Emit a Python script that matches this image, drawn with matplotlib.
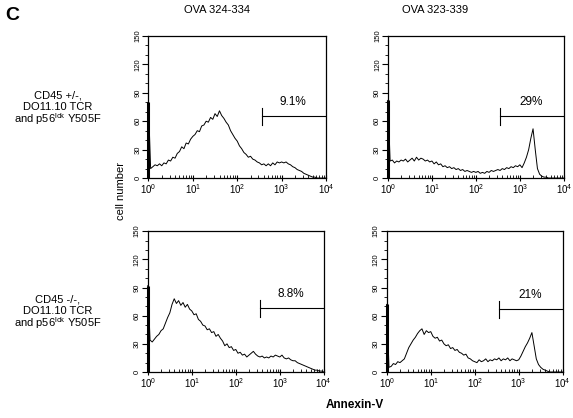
import numpy as np
import matplotlib.pyplot as plt
from matplotlib.ticker import MultipleLocator, LogLocator, NullFormatter

plt.rcParams['font.family'] = ['Liberation Sans', 'DejaVu Sans']

# channel positions: every 0.05 decade from 10^0 to 10^4
decades = np.linspace(0, 4, 81)
channels = 10 ** decades

# cell counts (first value is the pile-up in channel 0)
het_ova324 = [80, 10, 12, 14, 13, 15, 13, 16, 15, 19,
              18, 22, 21, 26, 28, 33, 31, 37, 36, 41,
              44, 46, 50, 49, 55, 56, 60, 59, 64, 62,
              68, 65, 71, 66, 63, 59, 56, 50, 46, 42,
              39, 34, 31, 27, 25, 22, 23, 20, 19, 17,
              16, 14, 15, 13, 15, 13, 16, 14, 17, 16,
              17, 16, 17, 15, 14, 12, 11, 9, 8, 7,
              5, 4, 3, 2, 1, 1, 0, 0, 0, 0, 0]
het_ova323 = [82, 18, 19, 16, 18, 17, 19, 18, 20, 17,
              19, 21, 18, 22, 19, 21, 20, 18, 19, 17,
              18, 15, 17, 14, 15, 12, 13, 11, 12, 10,
              11, 9, 10, 8, 9, 7, 8, 7, 6, 7,
              6, 7, 5, 6, 5, 7, 6, 8, 7, 8,
              9, 8, 10, 9, 11, 10, 12, 11, 13, 12,
              14, 11, 16, 22, 30, 42, 52, 30, 10, 4,
              2, 1, 1, 0, 0, 0, 0, 0, 0, 0, 0]
ko_ova324 = [92, 34, 32, 35, 38, 40, 44, 46, 52, 58,
             63, 72, 78, 73, 76, 71, 74, 69, 72, 67,
             65, 61, 62, 56, 54, 50, 49, 45, 46, 42,
             43, 38, 40, 36, 33, 28, 30, 26, 27, 23,
             24, 20, 21, 18, 19, 16, 18, 20, 22, 19,
             17, 16, 17, 15, 16, 15, 17, 16, 18, 17,
             16, 18, 15, 14, 15, 13, 12, 12, 10, 9,
             8, 7, 6, 5, 4, 3, 2, 2, 1, 1, 0]
ko_ova323 = [72, 5, 6, 9, 8, 11, 10, 12, 14, 20,
             26, 30, 34, 37, 41, 44, 46, 40, 44, 42,
             43, 38, 36, 37, 33, 34, 30, 28, 29, 25,
             26, 23, 24, 21, 20, 18, 19, 15, 14, 12,
             11, 10, 13, 11, 12, 14, 11, 13, 12, 14,
             13, 15, 12, 14, 13, 15, 12, 14, 13, 12,
             13, 17, 22, 27, 31, 36, 42, 28, 14, 8,
             5, 3, 2, 1, 0, 0, 0, 0, 0, 0, 0]

panels = [het_ova324, het_ova323, ko_ova324, ko_ova323]
gate_start = 355
gate_levels = [65, 65, 68, 67]
gate_labels = ["9.1%", "29%", "8.8%", "21%"]

rects = [[0.259, 0.574, 0.310, 0.340],
         [0.677, 0.574, 0.307, 0.340],
         [0.258, 0.110, 0.307, 0.337],
         [0.675, 0.110, 0.307, 0.337]]

fig = plt.figure(figsize=(5.73, 4.18), dpi=100)

for counts, rect, lvl, lab in zip(panels, rects, gate_levels, gate_labels):
    ax = fig.add_axes(rect)
    ax.plot(channels, counts, color='black', lw=0.7, clip_on=False)
    # channel-0 pile-up sits on the axis, drawn heavier like the original
    ax.vlines(channels[0], 0, counts[0], color='black', lw=2.2, zorder=3, clip_on=False)
    ax.set_xscale('log')
    ax.set_xlim(1, 1e4)
    ax.set_ylim(0, 150)

    # gate marker and percentage
    ax.plot([gate_start, 1e4], [lvl, lvl], color='black', lw=0.8)
    ax.plot([gate_start, gate_start], [lvl - 9, lvl + 9], color='black', lw=0.8)
    ax.text(1780, lvl + 15, lab, ha='center', va='center', fontsize=8.5)

    ax.set_yticks([0, 30, 60, 90, 120, 150])
    ax.yaxis.set_minor_locator(MultipleLocator(10))
    ax.tick_params(axis='y', which='major', direction='out', length=4, width=0.8,
                   labelsize=5.5, pad=1, labelrotation=90)
    ax.tick_params(axis='y', which='minor', direction='out', length=2, width=0.6)
    for t in ax.get_yticklabels():
        t.set_va('center')

    ax.xaxis.set_major_locator(LogLocator(base=10, numticks=5))
    ax.xaxis.set_minor_locator(LogLocator(base=10, subs=np.arange(2, 10), numticks=20))
    ax.xaxis.set_minor_formatter(NullFormatter())
    ax.tick_params(axis='x', which='major', direction='inout', length=4, width=0.8,
                   labelsize=7, pad=1)
    ax.tick_params(axis='x', which='minor', direction='in', length=2.5, width=0.6)
    for s in ax.spines.values():
        s.set_linewidth(0.9)

fig.text(0.021, 0.962, "C", fontsize=14, fontweight='bold', ha='center', va='center')
fig.text(0.379, 0.976, "OVA 324-334", fontsize=8, ha='center', va='center')
fig.text(0.759, 0.976, "OVA 323-339", fontsize=8, ha='center', va='center')
fig.text(0.211, 0.543, "cell number", fontsize=8, rotation=90, ha='center', va='center')

fig.text(0.101, 1 - 95 / 418, "CD45 +/-,", fontsize=8, ha='center', va='center')
fig.text(0.101, 1 - 107 / 418, "DO11.10 TCR", fontsize=8, ha='center', va='center')
fig.text(0.101, 1 - 119.5 / 418, r"and p56$^{\mathdefault{lck}}$ Y505F", fontsize=8,
         ha='center', va='center')
fig.text(0.101, 1 - 299 / 418, "CD45 -/-,", fontsize=8, ha='center', va='center')
fig.text(0.101, 1 - 311 / 418, "DO11.10 TCR", fontsize=8, ha='center', va='center')
fig.text(0.101, 1 - 323.5 / 418, r"and p56$^{\mathdefault{lck}}$ Y505F", fontsize=8,
         ha='center', va='center')

fig.text(0.62, 0.031, "Annexin-V", fontsize=8.5, fontweight='bold', ha='center', va='center')

fig.savefig("out.png", dpi=100)
